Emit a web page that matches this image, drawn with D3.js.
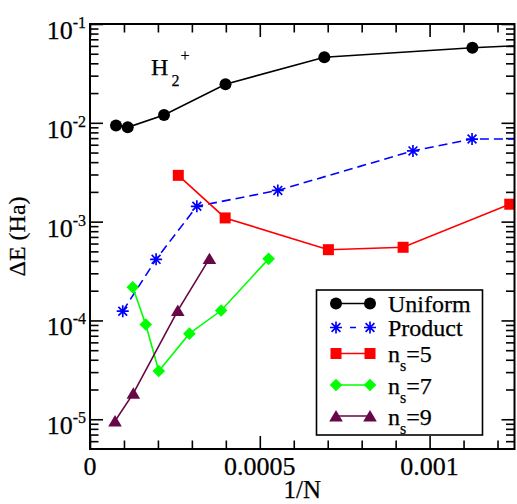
<!DOCTYPE html>
<html>
<head>
<meta charset="utf-8">
<script src="https://cdn.jsdelivr.net/npm/d3@7"></script>
<style>
  html, body { margin: 0; padding: 0; background: #fff; }
  svg { display: block; }
  svg text { font-family: "Liberation Serif", Tinos, "Nimbus Roman", Times, "DejaVu Serif", serif; fill: #000; stroke: #000; stroke-width: 0.25px; }
</style>
</head>
<body>
<svg id="chart" width="517" height="504"></svg>
<script>
// ---------------- data ----------------
const uniformX = [7.66e-5, 1.111e-4, 2.18e-4, 3.99e-4, 6.90e-4, 1.126e-3, 1.5e-3];
const uniformY = [9.4e-3, 9.0e-3, 1.2e-2, 2.46e-2, 4.6e-2, 5.75e-2, 6.6e-2];

const productX = [9.64e-5, 1.946e-4, 3.146e-4, 5.53e-4, 9.51e-4, 1.125e-3, 1.5e-3];
const productY = [1.24e-4, 4.15e-4, 1.43e-3, 2.07e-3, 5.2e-3, 6.85e-3, 6.9e-3];

const ns5X = [2.60e-4, 3.98e-4, 7.02e-4, 9.22e-4, 1.236e-3];
const ns5Y = [2.94e-3, 1.09e-3, 5.2e-4, 5.5e-4, 1.5e-3];

const ns7X = [1.259e-4, 1.642e-4, 2.025e-4, 2.927e-4, 3.862e-4, 5.26e-4];
const ns7Y = [2.17e-4, 9.1e-5, 3.08e-5, 7.35e-5, 1.26e-4, 4.2e-4];

const ns9X = [7.37e-5, 1.276e-4, 2.585e-4, 3.517e-4];
const ns9Y = [9.6e-6, 1.83e-5, 1.26e-4, 4.22e-4];

const seriesNames = ["Uniform", "Product", "n_s=5", "n_s=7", "n_s=9"];
const xMajorTicks = [0, 0.0005, 0.001];
const xTickLabels = ["0", "0.0005", "0.001"];
const yMajorExps = [-5, -4, -3, -2, -1];
const yLabel = "ΔE (Ha)";
const xLabel = "1/N";

// ---------------- layout ----------------
const FONT = '"Liberation Serif", Tinos, "Nimbus Roman", Times, "DejaVu Serif", serif';
const svg = d3.select("#chart").attr("font-family", FONT);
const L = 90, R = 514.5, T = 24, B = 449;
const x = d3.scaleLinear().domain([0, 0.00125]).range([L, R]);
const y = d3.scaleLog().domain([5e-6, 0.1]).range([B, T]);

const series = [
  { name: seriesNames[0], xs: uniformX, ys: uniformY, color: "#000000", dash: null, sym: "circle" },
  { name: seriesNames[1], xs: productX, ys: productY, color: "#0000ff", dash: "9,5", sym: "star" },
  { name: seriesNames[2], xs: ns5X, ys: ns5Y, color: "#ff0000", dash: null, sym: "square" },
  { name: seriesNames[3], xs: ns7X, ys: ns7Y, color: "#00ff00", dash: null, sym: "diamond" },
  { name: seriesNames[4], xs: ns9X, ys: ns9Y, color: "#670748", dash: null, sym: "triangle" }
];

// clip
svg.append("defs").append("clipPath").attr("id", "clip")
  .append("rect").attr("x", L).attr("y", T).attr("width", R - L).attr("height", B - T);

// ---------------- ticks ----------------
const xMinor = d3.range(1, 13).map(i => i * 0.0001).filter(v => xMajorTicks.every(m => Math.abs(m - v) > 1e-9));
const yMinor = [];
for (let e = -6; e <= -2; e++) for (let m = 2; m <= 9; m++) { const v = m * Math.pow(10, e); if (v > 5e-6 && v < 0.1) yMinor.push(v); }
const yMajor = yMajorExps.map(e => Math.pow(10, e));

function tickAxis(axisGen, transform) {
  const g = svg.append("g").attr("transform", transform).call(axisGen);
  g.select(".domain").remove();
  g.selectAll("line").attr("stroke", "#000").attr("stroke-width", 1.6);
  g.selectAll("text").remove();
  return g;
}
const MAJ = 13, MIN = 8.5;
tickAxis(d3.axisBottom(x).tickValues(xMajorTicks).tickSize(-MAJ).tickSizeOuter(0), `translate(0,${B})`);
tickAxis(d3.axisBottom(x).tickValues(xMinor).tickSize(-MIN).tickSizeOuter(0), `translate(0,${B})`);
tickAxis(d3.axisTop(x).tickValues(xMajorTicks).tickSize(-MAJ).tickSizeOuter(0), `translate(0,${T})`);
tickAxis(d3.axisTop(x).tickValues(xMinor).tickSize(-MIN).tickSizeOuter(0), `translate(0,${T})`);
tickAxis(d3.axisLeft(y).tickValues(yMajor).tickSize(-MAJ).tickSizeOuter(0), `translate(${L},0)`);
tickAxis(d3.axisLeft(y).tickValues(yMinor).tickSize(-MIN).tickSizeOuter(0), `translate(${L},0)`);
tickAxis(d3.axisRight(y).tickValues(yMajor).tickSize(-MAJ).tickSizeOuter(0), `translate(${R},0)`);
tickAxis(d3.axisRight(y).tickValues(yMinor).tickSize(-MIN).tickSizeOuter(0), `translate(${R},0)`);

// tick labels
svg.append("g").selectAll("text").data(xMajorTicks).join("text")
  .attr("x", d => x(d)).attr("y", B + 26).attr("text-anchor", "middle")
  .attr("font-size", 26).text((d, i) => xTickLabels[i]);

const yl = svg.append("g").selectAll("text").data(yMajorExps).join("text")
  .attr("x", 86).attr("y", d => y(Math.pow(10, d)) + 15).attr("text-anchor", "end")
  .attr("font-size", 26);
yl.append("tspan").text("10");
yl.append("tspan").attr("font-size", 16).attr("dy", -11).text(d => "-" + Math.abs(d));

// axis labels
svg.append("text").attr("x", (L + R) / 2).attr("y", 498).attr("text-anchor", "middle")
  .attr("font-size", 25).text(xLabel);
svg.append("text").attr("transform", `translate(25,${(T + B) / 2}) rotate(-90)`)
  .attr("text-anchor", "middle").attr("font-size", 24).text(yLabel);

// ---------------- symbols ----------------
function drawSymbol(g, sym, color, cx, cy) {
  if (sym === "circle") {
    g.append("circle").attr("cx", cx).attr("cy", cy).attr("r", 6).attr("fill", color);
  } else if (sym === "square") {
    g.append("rect").attr("x", cx - 5.5).attr("y", cy - 5.5).attr("width", 11).attr("height", 11).attr("fill", color);
  } else if (sym === "diamond") {
    g.append("path").attr("d", `M${cx},${cy - 6.3}L${cx + 6.3},${cy}L${cx},${cy + 6.3}L${cx - 6.3},${cy}Z`).attr("fill", color);
  } else if (sym === "triangle") {
    g.append("path").attr("d", `M${cx - 6.8},${cy + 5.4}L${cx + 6.8},${cy + 5.4}L${cx},${cy - 6}Z`).attr("fill", color);
  } else if (sym === "star") {
    const s = 6, d = 4.4;
    g.append("path").attr("d",
      `M${cx - s},${cy}L${cx + s},${cy}M${cx},${cy - s}L${cx},${cy + s}` +
      `M${cx - d},${cy - d}L${cx + d},${cy + d}M${cx - d},${cy + d}L${cx + d},${cy - d}`)
      .attr("stroke", color).attr("stroke-width", 1.7).attr("fill", "none");
  }
}

// ---------------- series ----------------
const plot = svg.append("g").attr("clip-path", "url(#clip)");
const line = d3.line().x(d => x(d[0])).y(d => y(d[1]));
series.forEach(s => {
  const pts = s.xs.map((v, i) => [v, s.ys[i]]);
  plot.append("path").datum(pts).attr("d", line).attr("fill", "none")
    .attr("stroke", s.color).attr("stroke-width", 1.6)
    .attr("stroke-dasharray", s.dash);
});
series.forEach(s => {
  const g = plot.append("g");
  s.xs.forEach((v, i) => drawSymbol(g, s.sym, s.color, x(v), y(s.ys[i])));
});

// frame
svg.append("rect").attr("x", L).attr("y", T).attr("width", R - L).attr("height", B - T)
  .attr("fill", "none").attr("stroke", "#000").attr("stroke-width", 2);

// ---------------- title ----------------
const title = svg.append("text").attr("font-size", 24);
title.append("tspan").attr("x", 151).attr("y", 75).text("H");
title.append("tspan").attr("x", 171.5).attr("y", 86).attr("font-size", 16).text("2");
title.append("tspan").attr("x", 180.5).attr("y", 61).attr("font-size", 16).text("+");

// ---------------- legend ----------------
const legend = svg.append("g");
legend.append("rect").attr("x", 316.5).attr("y", 290).attr("width", 166).attr("height", 145)
  .attr("fill", "#fff").attr("stroke", "#000").attr("stroke-width", 1.6);
const rowY = [303.5, 327.5, 353.5, 385, 416];
series.forEach((s, i) => {
  const cy = rowY[i];
  legend.append("line").attr("x1", 336).attr("x2", 370).attr("y1", cy).attr("y2", cy)
    .attr("stroke", s.color).attr("stroke-width", 1.6)
    .attr("stroke-dasharray", s.dash ? "0,14,6,14" : null);
  drawSymbol(legend, s.sym, s.color, 336, cy);
  drawSymbol(legend, s.sym, s.color, 370, cy);
  const t = legend.append("text").attr("x", 388).attr("y", cy + 8.5).attr("font-size", 24);
  if (s.name.startsWith("n_s")) {
    t.append("tspan").text("n");
    t.append("tspan").attr("font-size", 16).attr("dy", 9).text("s");
    t.append("tspan").attr("dy", -9).text(s.name.slice(3));
  } else {
    t.text(s.name);
  }
});
</script>
</body>
</html>
